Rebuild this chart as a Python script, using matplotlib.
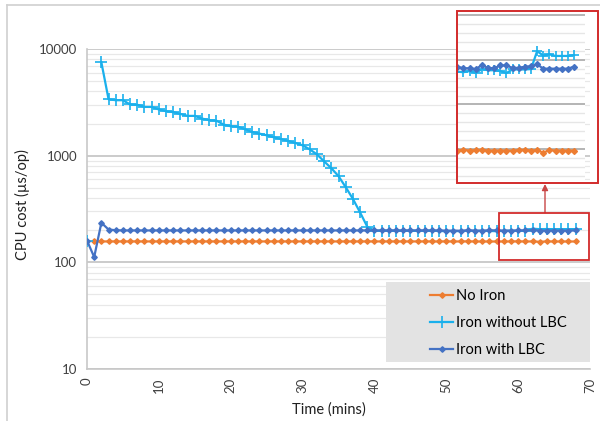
import numpy as np
import matplotlib
matplotlib.use("Agg")
import matplotlib.pyplot as plt
from matplotlib.patches import Rectangle
from matplotlib.lines import Line2D
from matplotlib.ticker import LogLocator, MultipleLocator, NullFormatter, NullLocator

plt.rcParams['font.family'] = ['Lato', 'DejaVu Sans']

nan = np.nan
time_min = list(range(69))

no_iron = [nan,
           157, 157, 157, 157, 157, 157, 157, 157, 157, 157,
           157, 157, 157, 157, 157, 157, 157, 157, 157, 157,
           157, 157, 157, 157, 157, 157, 157, 157, 157, 157,
           157, 157, 157, 157, 157, 157, 157, 157, 157, 157,
           157, 157, 157, 157, 157, 157, 157, 157,
           156.8, 157.2, 156.8, 157.0, 157.2, 156.8, 156.8, 156.8, 156.8, 156.8,
           157.0, 157.2, 156.8, 157.0, 155.8, 157.0, 156.8, 156.8, 156.8, 156.8]

iron_without_lbc = [160, nan, 7500, 3380, 3310, 3310, 3020, 3000, 2865, 2865,
                    2710, 2612, 2560, 2460, 2360, 2360, 2228, 2150, 2130, 1958,
                    1887, 1870, 1768, 1667, 1610, 1552, 1486, 1432, 1374, 1315,
                    1250, 1146, 1028, 884, 763, 643, 507, 394, 294, 216,
                    198, 198, 198, 198, 198, 198, 198, 198, 198,
                    196.5, 196.2, 196.8, 195.8, 197.8, 197.2, 197.2, 196.8, 195.8, 197.6,
                    197.6, 197.6, 197.8, 206.8, 204.6, 205.2, 204.4, 204.4, 204.4, 204.8]

iron_with_lbc = [160, 112, 235, 203, 200, 199, 199, 199, 199, 199,
                 199, 199, 199, 199, 199, 199, 199, 199, 199, 199,
                 199, 199, 199, 199, 199, 199, 199, 199, 199, 199,
                 199, 199, 199, 199, 199, 199, 199, 199, 199, 199,
                 199, 199, 199, 199, 199, 199, 199, 199, 199,
                 199.0, 198.2, 198.2, 197.8, 199.8, 198.4, 198.2, 199.6, 199.6, 198.4,
                 198.4, 199.0, 199.2, 200.2, 198.0, 198.0, 198.0, 198.0, 198.0, 199.0]

series_names = ["No Iron", "Iron without LBC", "Iron with LBC"]
x_ticks = [0, 10, 20, 30, 40, 50, 60, 70]
y_ticks = [10, 100, 1000, 10000]
y_tick_labels = ["10", "100", "1000", "10000"]

C_ORANGE = "#ED7D31"
C_LIGHT = "#1AB0EC"
C_BLUE = "#4472C4"
C_RED = "#D22B2B"

W, H = 600, 421
fig = plt.figure(figsize=(6, 4.21), dpi=100)

def fx(px):
    return px / W

def fy(py):
    return 1 - py / H

ax = fig.add_axes([fx(87), fy(369), fx(590) - fx(87), fy(49) - fy(369)])
ax.set_yscale('log')
ax.set_xlim(0, 70)
ax.set_ylim(10, 10000)

styles = [
    dict(color=C_ORANGE, marker='D', ms=2.8, lw=1.6),
    dict(color=C_LIGHT, marker='+', ms=8, mew=1.2, lw=1.6),
    dict(color=C_BLUE, marker='D', ms=2.8, lw=1.6),
]
data = [no_iron, iron_without_lbc, iron_with_lbc]
for name, ys, st in zip(series_names, data, styles):
    ax.plot(time_min, ys, label=name, zorder=3, **st)

ax.set_xticks(x_ticks)
ax.set_xticklabels([str(t) for t in x_ticks], rotation=90, fontsize=9.5, color='#404040')
ax.set_yticks(y_ticks)
ax.set_yticklabels(y_tick_labels, fontsize=9.5, color='#404040')
ax.yaxis.set_minor_locator(LogLocator(base=10, subs=np.arange(2, 10)))
ax.yaxis.set_minor_formatter(NullFormatter())
ax.tick_params(axis='both', which='both', length=0)
ax.tick_params(axis='x', pad=6)
ax.tick_params(axis='y', pad=7)
ax.grid(True, which='major', axis='y', color='#bdbdbd', lw=1.1, zorder=0)
ax.grid(True, which='minor', axis='y', color='#e8e8e8', lw=0.9, zorder=0)
ax.set_axisbelow(True)
for s in ['top', 'right']:
    ax.spines[s].set_visible(False)
for s in ['left', 'bottom']:
    ax.spines[s].set_color('#c8c8c8')
    ax.spines[s].set_linewidth(1.2)

fig.text(fx(22), fy(205), "CPU cost (µs/op)", rotation=90, ha='center', va='center',
         fontsize=10.5, color='#202020')
fig.text(fx(329), fy(410), "Time (mins)", ha='center', va='center',
         fontsize=10.5, color='#202020')

# legend background + legend
ax.add_patch(Rectangle((fx(386), fy(361.7)), fx(590) - fx(386), fy(281.7) - fy(361.7),
                       transform=fig.transFigure, facecolor='#e3e3e3', edgecolor='none',
                       zorder=5, clip_on=False))
leg = ax.legend(loc='upper left', bbox_to_anchor=(fx(430), fy(289)),
                bbox_transform=fig.transFigure, frameon=False, fontsize=10.5,
                handlelength=1.6, handletextpad=0.15, labelspacing=0.9,
                borderpad=0, borderaxespad=0)
leg.set_zorder(6)

# highlight rectangle on main chart
ax.add_patch(Rectangle((fx(499.3), fy(260)), fx(589) - fx(499.3), fy(212.7) - fy(260),
                       transform=fig.transFigure, facecolor='none', edgecolor=C_RED,
                       lw=1.3, zorder=7, clip_on=False))

# inset
axi = fig.add_axes([fx(456.7), fy(180), fx(585) - fx(456.7), fy(14) - fy(180)])
for name, ys, st in zip(series_names, data, styles):
    st2 = dict(st)
    if st2['marker'] == 'D':
        st2['ms'] = 3.0
    else:
        st2['ms'] = 7.5
    axi.plot(time_min, ys, zorder=3, **st2)
axi.set_xlim(48.9, 69.8)
axi.set_ylim(142, 225.5)
axi.yaxis.set_major_locator(MultipleLocator(22.5))
axi.yaxis.set_minor_locator(MultipleLocator(4.5))
axi.xaxis.set_major_locator(NullLocator())
axi.grid(True, which='major', axis='y', color='#a8a8a8', lw=1.2)
axi.grid(True, which='minor', axis='y', color='#e6e6e6', lw=1.0)
axi.set_axisbelow(True)
axi.tick_params(axis='both', which='both', length=0, labelleft=False, labelbottom=False)
for s in axi.spines.values():
    s.set_visible(False)

fig.add_artist(Rectangle((fx(456.7), fy(183)), fx(597.7) - fx(456.7), fy(11) - fy(183),
                         transform=fig.transFigure, facecolor='none', edgecolor=C_RED,
                         lw=1.4, zorder=10))

ax.annotate("", xy=(545, H - 184), xytext=(545, H - 212.7),
            xycoords='figure pixels', textcoords='figure pixels',
            arrowprops=dict(arrowstyle='-|>', color='#c84545', lw=1.0,
                            mutation_scale=9, shrinkA=0, shrinkB=0),
            annotation_clip=False)

# outer chart border (top and left)
fig.add_artist(Line2D([fx(7), 1.0], [fy(5), fy(5)], transform=fig.transFigure,
                      color='#d0d0d0', lw=1.2))
fig.add_artist(Line2D([fx(7), fx(7)], [fy(5), 0.0], transform=fig.transFigure,
                      color='#d0d0d0', lw=1.2))

fig.savefig("out.png", dpi=100)
